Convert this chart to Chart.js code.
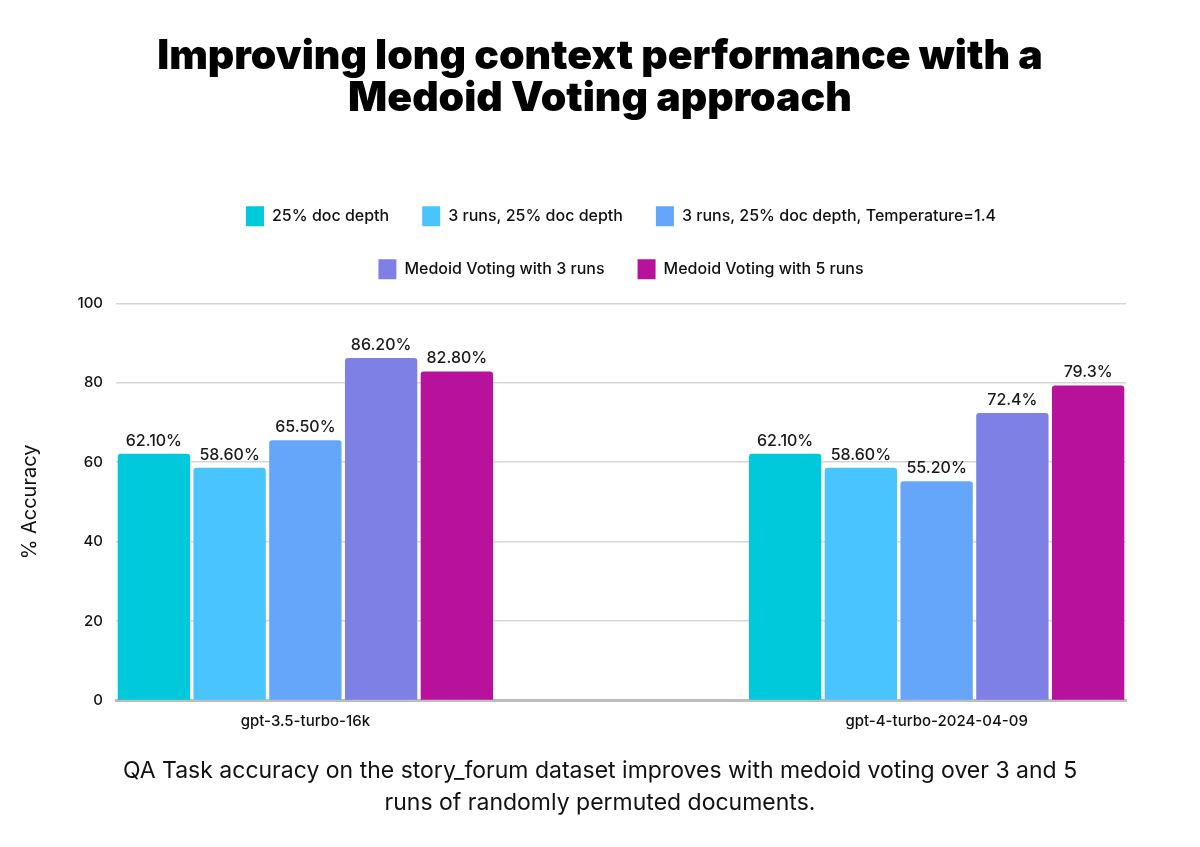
<!DOCTYPE html>
<html>
<head>
<meta charset="utf-8">
<script src="https://cdn.jsdelivr.net/npm/chart.js@4"></script>
<style>
  body { margin: 0; background: #fff; }
  #wrap { width: 1200px; height: 847px; }
</style>
</head>
<body>
<div id="wrap"><canvas id="chart" width="1200" height="847"></canvas></div>
<script>
const categories = ['gpt-3.5-turbo-16k', 'gpt-4-turbo-2024-04-09'];
const seriesNames = [
    '25% doc depth',
    '3 runs, 25% doc depth',
    '3 runs, 25% doc depth, Temperature=1.4',
    'Medoid Voting with 3 runs',
    'Medoid Voting with 5 runs'
];
const docDepth = [62.1, 62.1];
const threeRuns = [58.6, 58.6];
const threeRunsTemp = [65.5, 55.2];
const medoid3 = [86.2, 72.4];
const medoid5 = [82.8, 79.3];
// labels as printed in the original (mixed decimals)
const docDepthLabels = ['62.10%', '62.10%'];
const threeRunsLabels = ['58.60%', '58.60%'];
const threeRunsTempLabels = ['65.50%', '55.20%'];
const medoid3Labels = ['86.20%', '72.4%'];
const medoid5Labels = ['82.80%', '79.3%'];
const yTicks = [0, 20, 40, 60, 80, 100];

const colors = ['#00c9db', '#4ac4ff', '#66a6fa', '#7f80e6', '#b8129c'];
const allValues = [docDepth, threeRuns, threeRunsTemp, medoid3, medoid5];
const allLabels = [docDepthLabels, threeRunsLabels, threeRunsTempLabels, medoid3Labels, medoid5Labels];

const FONT = "Inter, 'Open Sans', sans-serif";

const datasets = seriesNames.map((name, i) => ({
    label: name,
    data: allValues[i].map((v, j) => ({ x: j, y: v })),
    valueLabels: allLabels[i],
    xAxisID: 'x',
    yAxisID: 'y',
    backgroundColor: colors[i],
    borderRadius: 3,
    borderSkipped: 'bottom',
    barPercentage: 0.955,
    categoryPercentage: 0.6
}));

const valueLabelPlugin = {
    id: 'valueLabels',
    afterDatasetsDraw(chart) {
        const ctx = chart.ctx;
        ctx.save();
        ctx.font = '500 16px ' + FONT;
        ctx.fillStyle = '#1a1a1a';
        ctx.textAlign = 'center';
        ctx.textBaseline = 'bottom';
        chart.data.datasets.forEach((ds, i) => {
            const meta = chart.getDatasetMeta(i);
            meta.data.forEach((bar, j) => {
                ctx.fillText(ds.valueLabels[j], bar.x, bar.y - 5);
            });
        });
        ctx.restore();
    }
};

// empty axes used only as spacers around the plot
const spacer = (size) => ({
    type: 'linear',
    display: true,
    grid: { display: false, drawTicks: false },
    border: { display: false },
    ticks: { display: false },
    afterFit(scale) {
        if (scale.isHorizontal()) scale.height = size; else scale.width = size;
    }
});

new Chart(document.getElementById('chart'), {
    type: 'bar',
    data: { datasets: datasets },
    options: {
        responsive: false,
        animation: false,
        layout: { padding: { left: 0, right: 0, top: 0, bottom: 28 } },
        plugins: {
            title: {
                display: true,
                text: ['Improving long context performance with a', 'Medoid Voting approach'],
                font: { family: FONT, size: 41, weight: '900', lineHeight: 1.04 },
                color: '#000',
                padding: { top: 35, bottom: 53 }
            },
            subtitle: {
                display: true,
                position: 'bottom',
                text: ['QA Task accuracy on the story_forum dataset improves with medoid voting over 3 and 5',
                       'runs of randomly permuted documents.'],
                font: { family: FONT, size: 23, weight: '400', lineHeight: 1.4 },
                color: '#111',
                padding: { top: 12, bottom: 0 }
            },
            legend: {
                position: 'top',
                fullSize: false,
                labels: {
                    boxWidth: 18,
                    boxHeight: 20,
                    padding: 33,
                    color: '#111',
                    font: { family: FONT, size: 16, weight: '500' }
                }
            },
            tooltip: { enabled: false }
        },
        scales: {
            x: {
                type: 'linear',
                offset: false,
                min: -0.3,
                max: 1.3,
                afterBuildTicks(scale) {
                    scale.ticks = categories.map((c, i) => ({ value: i }));
                },
                ticks: {
                    callback: (v) => categories[v],
                    color: '#111',
                    font: { family: FONT, size: 15, weight: '500' },
                    padding: 12,
                    maxRotation: 0
                },
                grid: { display: false, drawTicks: false },
                border: { display: true, color: '#bdbdbd', width: 3 }
            },
            y: {
                min: 0,
                max: 100,
                afterBuildTicks(scale) {
                    scale.ticks = yTicks.map(v => ({ value: v }));
                },
                afterFit(scale) {
                    scale.width = 116;
                },
                ticks: {
                    color: '#111',
                    font: { family: FONT, size: 15, weight: '500' },
                    padding: 13
                },
                grid: { color: '#d6d6d6', lineWidth: 1.5, drawTicks: false },
                border: { display: false },
                title: {
                    display: true,
                    text: '% Accuracy',
                    color: '#111',
                    font: { family: FONT, size: 20, weight: '400' },
                    padding: { top: 18, bottom: 0 }
                }
            },
            xTop: Object.assign(spacer(14), { position: 'top' }),
            yRight: Object.assign(spacer(74), { position: 'right' })
        }
    },
    plugins: [valueLabelPlugin]
});
</script>
</body>
</html>
